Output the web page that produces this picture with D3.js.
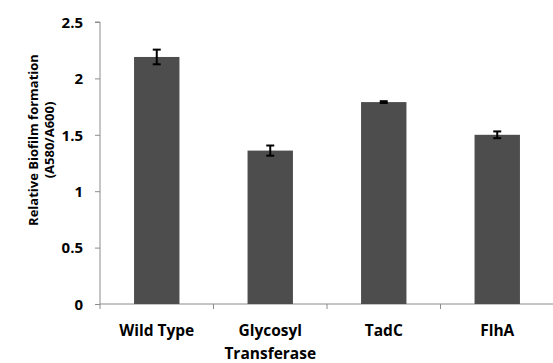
<!DOCTYPE html>
<html>
<head>
<meta charset="utf-8">
<script src="https://cdn.jsdelivr.net/npm/d3@7"></script>
<style>
body { margin: 0; background: #fff; }
text { font-family: "Open Sans", sans-serif; font-weight: 700; fill: #000; }
</style>
</head>
<body>
<svg width="553" height="363"></svg>
<script>
var categories = ["Wild Type", "Glycosyl Transferase", "TadC", "FlhA"];
var values = [2.19, 1.36, 1.79, 1.50];
var errors = [0.065, 0.045, 0.008, 0.03];
var yTicks = [0, 0.5, 1, 1.5, 2, 2.5];

var svg = d3.select("svg");
var plotLeft = 100, plotRight = 554, plotTop = 22, plotBottom = 304;

var x = d3.scaleBand().domain(categories).range([plotLeft, plotRight]).paddingInner(0.6).paddingOuter(0.3);
var y = d3.scaleLinear().domain([0, 2.5]).range([plotBottom, plotTop]);

// y axis
var yAxis = svg.append("g")
    .attr("transform", "translate(" + plotLeft + ",0)")
    .call(d3.axisLeft(y).tickValues(yTicks).tickSize(5).tickFormat(function (d) { return d; }));
yAxis.select(".domain").attr("stroke", "#8c8c8c").attr("d", "M-5," + plotTop + "H0V" + plotBottom);
yAxis.selectAll(".tick line").attr("stroke", "#8c8c8c");
yAxis.selectAll(".tick text").attr("font-size", "15px").attr("x", -17).attr("dy", "0.35em")
    .style("font-family", "'Open Sans', sans-serif").style("font-weight", 700);

// x axis line and band boundary ticks
var xg = svg.append("g");
xg.append("line").attr("x1", plotLeft).attr("x2", plotRight).attr("y1", plotBottom).attr("y2", plotBottom).attr("stroke", "#8c8c8c");
var bounds = d3.range(categories.length + 1).map(function (i) { return plotLeft + i * (plotRight - plotLeft) / categories.length; });
xg.selectAll(".bt").data(bounds).enter().append("line")
    .attr("x1", function (d) { return d; }).attr("x2", function (d) { return d; })
    .attr("y1", plotBottom).attr("y2", plotBottom + 5).attr("stroke", "#8c8c8c");

// bars
svg.selectAll(".bar").data(categories).enter().append("rect")
    .attr("x", function (d) { return x(d); })
    .attr("y", function (d, i) { return y(values[i]); })
    .attr("width", x.bandwidth())
    .attr("height", function (d, i) { return plotBottom - y(values[i]); })
    .attr("fill", "#4d4d4d");

// error bars
var eb = svg.selectAll(".err").data(categories).enter().append("g");
eb.append("line")
    .attr("x1", function (d) { return x(d) + x.bandwidth() / 2; })
    .attr("x2", function (d) { return x(d) + x.bandwidth() / 2; })
    .attr("y1", function (d, i) { return y(values[i] + errors[i]); })
    .attr("y2", function (d, i) { return y(values[i] - errors[i]); })
    .attr("stroke", "#000").attr("stroke-width", 2);
[1, -1].forEach(function (s) {
    eb.append("line")
        .attr("x1", function (d) { return x(d) + x.bandwidth() / 2 - 4; })
        .attr("x2", function (d) { return x(d) + x.bandwidth() / 2 + 4; })
        .attr("y1", function (d, i) { return y(values[i] + s * errors[i]); })
        .attr("y2", function (d, i) { return y(values[i] + s * errors[i]); })
        .attr("stroke", "#000").attr("stroke-width", 2);
});

// category labels
svg.selectAll(".cat").data(categories).enter().append("text")
    .attr("text-anchor", "middle")
    .attr("font-size", "15.5px")
    .attr("x", function (d) { return x(d) + x.bandwidth() / 2; })
    .attr("y", 336)
    .each(function (d) {
        var words = d.split(" ");
        var t = d3.select(this);
        if (d == "Glycosyl Transferase") {
            t.append("tspan").attr("x", t.attr("x")).text(words[0]);
            t.append("tspan").attr("x", t.attr("x")).attr("dy", 23).text(words[1]);
        } else {
            t.text(d);
        }
    });

// y title
var yt = svg.append("text")
    .attr("transform", "translate(38,140) rotate(-90)")
    .attr("text-anchor", "middle")
    .attr("font-size", "13px");
yt.append("tspan").attr("x", 0).attr("y", 0).text("Relative Biofilm formation");
yt.append("tspan").attr("x", 0).attr("y", 16).text("(A580/A600)");
</script>
</body>
</html>
